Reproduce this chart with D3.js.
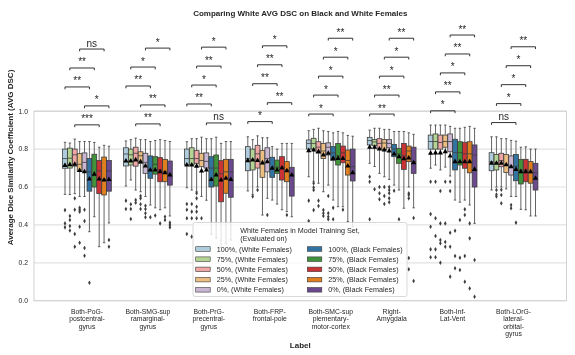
<!DOCTYPE html>
<html>
<head>
<meta charset="utf-8">
<script src="https://cdnjs.cloudflare.com/ajax/libs/d3/7.8.5/d3.min.js"></script>
<style>
  body { margin: 0; background: #fff; }
  svg { font-family: "Liberation Sans", Arial, sans-serif; will-change: transform; }
</style>
</head>
<body>
<div id="chart"></div>
<script>
// categories (x) and how their tick labels wrap
var categories = ["Both-PoG-postcentral-gyrus", "Both-SMG-supramarginal-gyrus", "Both-PrG-precentral-gyrus",
  "Both-FRP-frontal-pole", "Both-SMC-supplementary-motor-cortex", "Right-Amygdala",
  "Both-Inf-Lat-Vent", "Both-LOrG-lateral-orbital-gyrus"]
var categoryLines = [
  ["Both-PoG-", "postcentral-", "gyrus"],
  ["Both-SMG-sup", "ramarginal-", "gyrus"],
  ["Both-PrG-", "precentral-", "gyrus"],
  ["Both-FRP-", "frontal-pole"],
  ["Both-SMC-sup", "plementary-", "motor-cortex"],
  ["Right-", "Amygdala"],
  ["Both-Inf-", "Lat-Vent"],
  ["Both-LOrG-", "lateral-", "orbital-", "gyrus"]]

var hueLabels = ["100%, (White Females)", "75%, (White Females)", "50%, (White Females)",
  "25%, (White Females)", "0%, (White Females)", "100%, (Black Females)", "75%, (Black Females)",
  "50%, (Black Females)", "25%, (Black Females)", "0%, (Black Females)"]

// box stats, one row per category, one value per hue
var whiskerLow = [
  [0.561, 0.56, 0.565, 0.55, 0.55, 0.364, 0.443, 0.285, 0.306, 0.41],
  [0.605, 0.637, 0.584, 0.575, 0.55, 0.505, 0.49, 0.48, 0.49, 0.447],
  [0.596, 0.584, 0.575, 0.55, 0.53, 0.35, 0.33, 0.28, 0.30, 0.32],
  [0.579, 0.56, 0.60, 0.452, 0.54, 0.531, 0.51, 0.48, 0.47, 0.443],
  [0.654, 0.63, 0.62, 0.575, 0.61, 0.531, 0.496, 0.496, 0.417, 0.39],
  [0.725, 0.708, 0.672, 0.654, 0.64, 0.61, 0.584, 0.488, 0.60, 0.49],
  [0.699, 0.716, 0.69, 0.705, 0.658, 0.531, 0.52, 0.531, 0.505, 0.408],
  [0.584, 0.60, 0.60, 0.59, 0.55, 0.55, 0.482, 0.48, 0.447, 0.447]]
var boxQ1 = [
  [0.699, 0.70, 0.71, 0.683, 0.68, 0.578, 0.60, 0.565, 0.558, 0.578],
  [0.711, 0.716, 0.71, 0.725, 0.672, 0.646, 0.668, 0.628, 0.628, 0.61],
  [0.716, 0.716, 0.725, 0.707, 0.70, 0.60, 0.605, 0.522, 0.567, 0.546],
  [0.686, 0.69, 0.70, 0.651, 0.68, 0.651, 0.672, 0.637, 0.628, 0.552],
  [0.80, 0.80, 0.778, 0.75, 0.769, 0.739, 0.716, 0.728, 0.663, 0.632],
  [0.822, 0.818, 0.80, 0.796, 0.807, 0.76, 0.725, 0.693, 0.734, 0.672],
  [0.80, 0.80, 0.80, 0.81, 0.786, 0.69, 0.716, 0.699, 0.675, 0.60],
  [0.686, 0.69, 0.707, 0.676, 0.663, 0.633, 0.616, 0.628, 0.62, 0.584]]
var boxMedian = [
  [0.75, 0.752, 0.77, 0.72, 0.73, 0.68, 0.66, 0.685, 0.64, 0.685],
  [0.774, 0.77, 0.778, 0.765, 0.73, 0.69, 0.72, 0.69, 0.68, 0.67],
  [0.75, 0.75, 0.75, 0.74, 0.735, 0.70, 0.70, 0.67, 0.68, 0.68],
  [0.75, 0.745, 0.775, 0.72, 0.75, 0.70, 0.705, 0.705, 0.69, 0.663],
  [0.83, 0.83, 0.81, 0.79, 0.81, 0.78, 0.765, 0.78, 0.74, 0.707],
  [0.845, 0.838, 0.83, 0.832, 0.83, 0.80, 0.775, 0.765, 0.79, 0.734],
  [0.84, 0.84, 0.835, 0.84, 0.84, 0.781, 0.781, 0.775, 0.775, 0.769],
  [0.733, 0.728, 0.74, 0.72, 0.71, 0.71, 0.69, 0.69, 0.675, 0.675]]
var boxQ3 = [
  [0.80, 0.805, 0.80, 0.776, 0.78, 0.75, 0.773, 0.74, 0.758, 0.74],
  [0.807, 0.80, 0.81, 0.786, 0.778, 0.764, 0.76, 0.755, 0.746, 0.737],
  [0.80, 0.807, 0.792, 0.778, 0.78, 0.76, 0.769, 0.739, 0.746, 0.746],
  [0.813, 0.80, 0.82, 0.792, 0.807, 0.757, 0.742, 0.76, 0.734, 0.704],
  [0.848, 0.857, 0.839, 0.83, 0.833, 0.813, 0.83, 0.816, 0.795, 0.80],
  [0.862, 0.85, 0.855, 0.85, 0.85, 0.825, 0.804, 0.83, 0.816, 0.81],
  [0.874, 0.88, 0.874, 0.874, 0.88, 0.852, 0.839, 0.836, 0.839, 0.822],
  [0.781, 0.772, 0.778, 0.772, 0.764, 0.772, 0.746, 0.746, 0.734, 0.725]]
var whiskerHigh = [
  [0.836, 0.832, 0.853, 0.84, 0.84, 0.84, 0.835, 0.81, 0.82, 0.815],
  [0.843, 0.85, 0.858, 0.85, 0.85, 0.84, 0.845, 0.85, 0.845, 0.84],
  [0.839, 0.855, 0.855, 0.863, 0.855, 0.855, 0.863, 0.83, 0.84, 0.84],
  [0.865, 0.85, 0.87, 0.86, 0.86, 0.813, 0.80, 0.83, 0.83, 0.83],
  [0.897, 0.904, 0.91, 0.897, 0.893, 0.886, 0.893, 0.886, 0.872, 0.868],
  [0.90, 0.91, 0.91, 0.904, 0.904, 0.893, 0.893, 0.893, 0.886, 0.878],
  [0.927, 0.927, 0.927, 0.927, 0.92, 0.91, 0.91, 0.915, 0.92, 0.91],
  [0.865, 0.865, 0.855, 0.855, 0.846, 0.842, 0.81, 0.812, 0.80, 0.80]]
var boxMean = [
  [0.714, 0.718, 0.72, 0.687, 0.68, 0.642, 0.668, 0.642, 0.637, 0.64],
  [0.737, 0.737, 0.743, 0.733, 0.711, 0.69, 0.69, 0.68, 0.675, 0.663],
  [0.716, 0.716, 0.71, 0.684, 0.69, 0.64, 0.663, 0.637, 0.646, 0.64],
  [0.739, 0.742, 0.74, 0.728, 0.733, 0.699, 0.69, 0.70, 0.686, 0.663],
  [0.792, 0.795, 0.787, 0.769, 0.778, 0.751, 0.751, 0.75, 0.711, 0.675],
  [0.81, 0.81, 0.80, 0.796, 0.79, 0.774, 0.76, 0.749, 0.753, 0.728],
  [0.778, 0.78, 0.78, 0.786, 0.764, 0.734, 0.733, 0.733, 0.734, 0.693],
  [0.725, 0.725, 0.725, 0.717, 0.707, 0.693, 0.681, 0.681, 0.681, 0.646]]
var fliers = [
  [[0.478, 0.408, 0.387], [0.447, 0.426, 0.394, 0.37], [0.54, 0.48, 0.352, 0.285], [0.49, 0.48, 0.47, 0.39, 0.306],
   [0.48, 0.42, 0.278, 0.237], [0.095], [], [], [], [0.32, 0.285]],
  [[0.528, 0.484], [0.509, 0.484, 0.431], [0.531, 0.517], [0.553, 0.54, 0.509, 0.484], [0.501, 0.484, 0.461, 0.44],
   [0.44], [0.45], [0.408], [0.443, 0.426], [0.412, 0.40, 0.387]],
  [[0.51, 0.48, 0.435, 0.352], [0.51, 0.47, 0.435, 0.338], [0.567, 0.54, 0.496, 0.47, 0.435], [0.435], [], [], [], [], [], []],
  [[], [0.55], [0.584], [], [0.452], [], [], [], [0.452], []],
  [[0.528, 0.42], [0.62, 0.598, 0.584, 0.478], [0.528, 0.50], [0.478, 0.461, 0.447], [0.553, 0.461, 0.443, 0.43],
   [0.49, 0.43], [], [0.48], [], []],
  [[0.654, 0.628, 0.43], [0.588], [0.60, 0.567, 0.535], [0.60, 0.553, 0.51], [0.60, 0.584, 0.567, 0.54, 0.52],
   [0.58], [0.43], [], [0.567, 0.558, 0.54, 0.225, 0.166], [0.436, 0.104]],
  [[0.628, 0.457, 0.39, 0.271, 0.229], [0.628, 0.435, 0.341, 0.271, 0.229], [0.579, 0.408, 0.32, 0.303, 0.2],
   [0.628, 0.408, 0.31, 0.285], [0.628, 0.579, 0.359, 0.285, 0.127], [0.369, 0.236, 0.171], [0.426, 0.227, 0.162],
   [0.482, 0.452, 0.236, 0.10], [0.408, 0.329, 0.065], [0.215, 0.021]],
  [[], [0.584, 0.56, 0.55], [0.585, 0.558, 0.514], [], [0.505, 0.488], [0.412], [], [], [], []]]

// significance of White vs Black at each training share (100,75,50,25,0 %)
var annotLabels = [
  ["**", "**", "***", "ns", "*"],
  ["**", "*", "**", "**", "*"],
  ["**", "*", "**", "*", "ns"],
  ["*", "**", "**", "*", "**"],
  ["*", "*", "*", "*", "**"],
  ["**", "**", "*", "*", "**"],
  ["*", "**", "*", "**", "**"],
  ["ns", "*", "*", "*", "**"]]
// stacking order of the brackets, bottom to top
var annotStack = [
  [2, 4, 0, 1, 3],
  [2, 3, 0, 1, 4],
  [4, 0, 1, 2, 3],
  [0, 4, 1, 2, 3],
  [0, 1, 2, 3, 4],
  [0, 1, 2, 3, 4],
  [0, 1, 2, 3, 4],
  [0, 1, 2, 3, 4]]

var paired = ["#a6cee3", "#1f78b4", "#b2df8a", "#33a02c", "#fb9a99", "#e31a1c", "#fdbf6f", "#ff7f00", "#cab2d6", "#6a3d9a"]
var hueColors = hueLabels.map(function(h, k) {
  var c = d3.hsl(k < 5 ? paired[2 * k] : paired[2 * (k - 5) + 1])
  c.s *= 0.75
  return c.formatHex()
})
var lineGray = "#3d3d3d"

var width = 575, height = 355
var plotL = 34, plotR = 566.5, plotT = 111.2, plotB = 300.7

var svg = d3.select("#chart").append("svg")
  .attr("width", width)
  .attr("height", height)

var x = d3.scaleBand().domain(categories).range([plotL + 22.5, plotR - 22.5])
var hue = d3.scaleBand().domain(d3.range(10))
  .range([-0.4 * x.bandwidth(), 0.4 * x.bandwidth()]).paddingInner(0.02)
var y = d3.scaleLinear().domain([0, 1]).range([plotB, plotT])

// grid + frame
svg.append("g").selectAll("line")
  .data(y.ticks(5))
  .enter().append("line")
    .attr("x1", plotL).attr("x2", plotR)
    .attr("y1", function(d) { return y(d) }).attr("y2", function(d) { return y(d) })
    .attr("stroke", "#e2e2e2").attr("stroke-width", 1.2)
svg.append("rect")
  .attr("x", plotL).attr("y", plotT).attr("width", plotR - plotL).attr("height", plotB - plotT)
  .attr("fill", "none").attr("stroke", "#d2d2d2").attr("stroke-width", 1)

svg.append("g").selectAll("text")
  .data(y.ticks(5))
  .enter().append("text")
    .attr("x", plotL - 6).attr("y", function(d) { return y(d) + 2.3 })
    .attr("text-anchor", "end")
    .style("font-size", "6.8px").attr("fill", "#262626")
    .text(d3.format(".1f"))

// x tick labels
var xt = svg.append("g").selectAll("text")
  .data(categories)
  .enter().append("text")
    .attr("transform", function(d) { return "translate(" + (x(d) + x.bandwidth() / 2) + ",313.5)" })
    .attr("text-anchor", "middle")
    .style("font-size", "6.8px").attr("fill", "#262626")
xt.selectAll("tspan")
  .data(function(d, i) { return categoryLines[i] })
  .enter().append("tspan")
    .attr("x", 0).attr("dy", function(d, i) { return i == 0 ? 0 : 7.6 })
    .text(function(d) { return d })

// boxes
var boxes = []
categories.forEach(function(c, g) {
  hueLabels.forEach(function(h, k) {
    boxes.push({cat: c, g: g, k: k, lo: whiskerLow[g][k], q1: boxQ1[g][k], med: boxMedian[g][k],
      q3: boxQ3[g][k], hi: whiskerHigh[g][k], mean: boxMean[g][k], fliers: fliers[g][k]})
  })
})
function cx(d) { return x(d.cat) + x.bandwidth() / 2 + hue(d.k) + hue.bandwidth() / 2 }
var bw = hue.bandwidth()

var bg = svg.append("g").selectAll("g")
  .data(boxes)
  .enter().append("g")
bg.append("line")
  .attr("x1", cx).attr("x2", cx)
  .attr("y1", function(d) { return y(d.lo) }).attr("y2", function(d) { return y(d.q1) })
bg.append("line")
  .attr("x1", cx).attr("x2", cx)
  .attr("y1", function(d) { return y(d.q3) }).attr("y2", function(d) { return y(d.hi) })
bg.append("line")
  .attr("x1", function(d) { return cx(d) - bw / 4 }).attr("x2", function(d) { return cx(d) + bw / 4 })
  .attr("y1", function(d) { return y(d.lo) }).attr("y2", function(d) { return y(d.lo) })
bg.append("line")
  .attr("x1", function(d) { return cx(d) - bw / 4 }).attr("x2", function(d) { return cx(d) + bw / 4 })
  .attr("y1", function(d) { return y(d.hi) }).attr("y2", function(d) { return y(d.hi) })
bg.selectAll("line").attr("stroke", lineGray).attr("stroke-width", 0.8)
bg.append("rect")
  .attr("x", function(d) { return cx(d) - bw / 2 }).attr("width", bw)
  .attr("y", function(d) { return y(d.q3) })
  .attr("height", function(d) { return y(d.q1) - y(d.q3) })
  .attr("fill", function(d) { return hueColors[d.k] })
  .attr("stroke", lineGray).attr("stroke-width", 0.8)
bg.append("line")
  .attr("x1", function(d) { return cx(d) - bw / 2 }).attr("x2", function(d) { return cx(d) + bw / 2 })
  .attr("y1", function(d) { return y(d.med) }).attr("y2", function(d) { return y(d.med) })
  .attr("stroke", lineGray).attr("stroke-width", 0.8)
bg.append("path")
  .attr("d", d3.symbol(d3.symbolTriangle, 12))
  .attr("transform", function(d) { return "translate(" + cx(d) + "," + y(d.mean) + ")" })
  .attr("fill", "black")
bg.selectAll(".flier")
  .data(function(d) { return d.fliers.map(function(v) { return {x: cx(d), v: v} }) })
  .enter().append("path")
    .attr("class", "flier")
    .attr("d", d3.symbol(d3.symbolDiamond, 6))
    .attr("transform", function(d) { return "translate(" + d.x + "," + y(d.v) + ")" })
    .attr("fill", lineGray)

// legend
var lg = svg.append("g").attr("transform", "translate(193,222.5)")
lg.append("rect")
  .attr("width", 214).attr("height", 74).attr("rx", 2)
  .attr("fill", "white").attr("fill-opacity", 0.8)
  .attr("stroke", "#cfcfcf").attr("stroke-width", 0.8)
var t1 = lg.append("text").attr("x", 107).attr("y", 10)
  .attr("text-anchor", "middle").style("font-size", "7.2px").attr("fill", "#262626")
  .text("White Females in Model Training Set,")
var t1x = t1.node().getBBox().x
lg.append("text").attr("x", t1x).attr("y", 18.3)
  .style("font-size", "7.2px").attr("fill", "#262626")
  .text("(Evaluated on)")
var items = lg.selectAll(".item")
  .data(hueLabels)
  .enter().append("g")
    .attr("class", "item")
    .attr("transform", function(d, i) {
      return "translate(" + (i < 5 ? 2.7 : 114.3) + "," + (26.5 + (i % 5) * 10.2) + ")" })
items.append("rect")
  .attr("y", -2.3).attr("width", 14.5).attr("height", 4.6)
  .attr("fill", function(d, i) { return hueColors[i] })
  .attr("stroke", lineGray).attr("stroke-width", 0.6)
items.append("text")
  .attr("x", 21).attr("y", 2.5)
  .style("font-size", "7.2px").attr("fill", "#262626")
  .text(function(d) { return d })

// significance brackets
var annots = []
categories.forEach(function(c, g) {
  var base = d3.max(whiskerHigh[g]) + 0.075
  annotStack[g].forEach(function(p, lvl) {
    annots.push({cat: c, p: p, level: base + lvl * 0.1, label: annotLabels[g][p]})
  })
})
var ag = svg.append("g").selectAll("g")
  .data(annots)
  .enter().append("g")
ag.append("path")
  .attr("d", function(d) {
    var x1 = cx({cat: d.cat, k: d.p}), x2 = cx({cat: d.cat, k: d.p + 5}), yy = y(d.level)
    return "M" + x1 + "," + (yy + 2.3) + "V" + yy + "H" + x2 + "V" + (yy + 2.3)
  })
  .attr("fill", "none").attr("stroke", "#333").attr("stroke-width", 1)
ag.append("text")
  .attr("x", function(d) { return (cx({cat: d.cat, k: d.p}) + cx({cat: d.cat, k: d.p + 5})) / 2 })
  .attr("y", function(d) { return y(d.level) - 2.5 })
  .attr("text-anchor", "middle")
  .style("font-size", "10px").attr("fill", "#262626")
  .text(function(d) { return d.label })

// titles
svg.append("text")
  .attr("x", (plotL + plotR) / 2).attr("y", 16)
  .attr("text-anchor", "middle")
  .style("font-size", "8px").style("font-weight", "bold").attr("fill", "#262626")
  .text("Comparing White AVG DSC on Black and White Females")
svg.append("text")
  .attr("x", (plotL + plotR) / 2).attr("y", 348)
  .attr("text-anchor", "middle")
  .style("font-size", "8px").style("font-weight", "bold").attr("fill", "#262626")
  .text("Label")
svg.append("text")
  .attr("transform", "translate(13,157.5) rotate(-90)")
  .attr("text-anchor", "middle")
  .style("font-size", "8px").style("font-weight", "bold").attr("fill", "#262626")
  .text("Average Dice Similarity Coefficient (AVG DSC)")
</script>
</body>
</html>
